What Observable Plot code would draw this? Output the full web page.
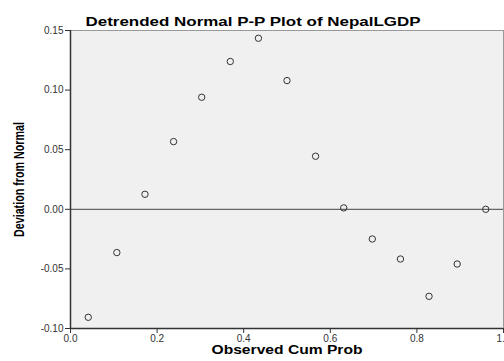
<!DOCTYPE html>
<html><head><meta charset="utf-8">
<script src="https://cdn.jsdelivr.net/npm/d3@7"></script>
<script src="https://cdn.jsdelivr.net/npm/@observablehq/plot@0.6"></script>
<style>
html,body{margin:0;padding:0;background:#fff;}
</style></head><body>
<div id="chart"></div>
<script>
const title = "Detrended Normal P-P Plot of NepalLGDP";
const xLabel = "Observed Cum Prob";
const yLabel = "Deviation from Normal";
const observedCumProb = [0.041, 0.107, 0.172, 0.238, 0.303, 0.369, 0.434, 0.500, 0.566, 0.631, 0.697, 0.762, 0.828, 0.893, 0.959];
const deviation = [-0.0906, -0.0363, 0.0126, 0.0568, 0.094, 0.124, 0.1435, 0.108, 0.0445, 0.0012, -0.0249, -0.0417, -0.073, -0.0459, 0.0];
const xTicks = [0, 0.2, 0.4, 0.6, 0.8, 1.0];
const yTicks = [-0.10, -0.05, 0.00, 0.05, 0.10, 0.15];

const data = observedCumProb.map((x, i) => ({x, y: deviation[i]}));
const font = "'Liberation Sans', Arial, sans-serif";
const fmt = (f) => (d) => d3.format(f)(d).replace("\u2212", "-");

const chart = Plot.plot({
  width: 504, height: 361,
  marginLeft: 70, marginRight: 1, marginTop: 30, marginBottom: 33,
  style: {fontFamily: font, fontSize: "10px", background: "#fff", color: "#333", overflow: "visible"},
  x: {domain: [0, 1], ticks: xTicks, tickFormat: fmt(".1f"), label: null},
  y: {domain: [-0.10, 0.15], ticks: yTicks, tickFormat: fmt(".2f"), label: null},
  marks: [
    Plot.frame({fill: "#f0f0f0", stroke: "#999"}),
    Plot.ruleY([0], {stroke: "#444", strokeWidth: 1}),
    Plot.axisX({ticks: xTicks, tickFormat: fmt(".1f"), tickSize: 5, tickPadding: 1, stroke: "#333", fill: "#333", fontSize: 10}),
    Plot.axisY({ticks: yTicks, tickFormat: fmt(".2f"), tickSize: 5, tickPadding: 2, stroke: "#333", fill: "#333", fontSize: 10}),
    Plot.ruleX([0], {stroke: "#333", strokeWidth: 1.5}),
    Plot.ruleY([-0.10], {stroke: "#333", strokeWidth: 1.5}),
    Plot.dot(data, {x: "x", y: "y", r: 3.2, stroke: "#333", strokeWidth: 1, fill: "none"}),
    Plot.text([title], {frameAnchor: "top", dx: -34, dy: -14, fontSize: 13, fontWeight: "bold", fill: "#000"}),
    Plot.text([xLabel], {frameAnchor: "bottom", dy: 25, fontSize: 12.5, fontWeight: "bold", fill: "#000"}),
    Plot.text([yLabel], {frameAnchor: "left", textAnchor: "middle", dx: -51, rotate: -90, fontSize: 14.5, fontWeight: "bold", fill: "#000"})
  ]
});
const lengths = {[title]: 335, [xLabel]: 151, [yLabel]: 115};
d3.select(chart).selectAll("text").each(function() {
  const t = this.textContent;
  if (lengths[t]) {
    this.setAttribute("textLength", lengths[t]);
    this.setAttribute("lengthAdjust", "spacingAndGlyphs");
  }
});
document.getElementById("chart").appendChild(chart);
</script>
</body></html>
